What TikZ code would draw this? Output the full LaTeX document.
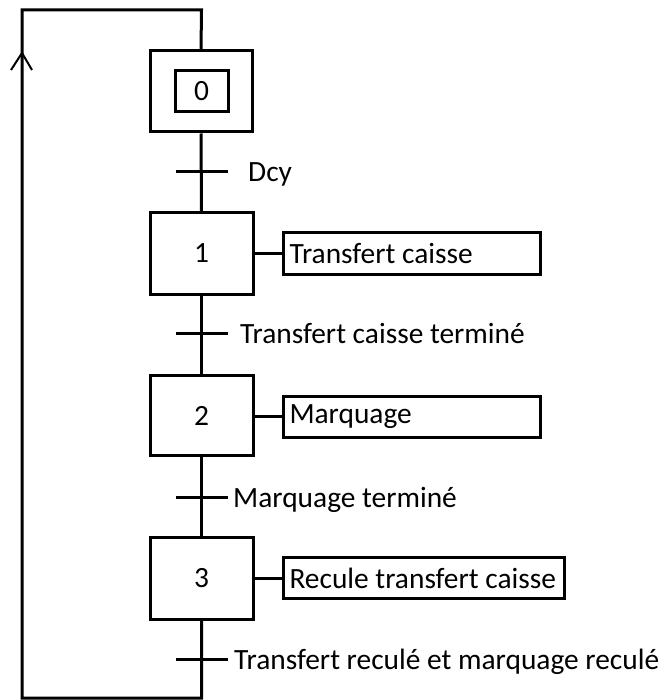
\documentclass[tikz,border=0pt]{standalone}
\usepackage{fontspec}
\setmainfont{Carlito}
\begin{document}
\begin{tikzpicture}[x=1pt,y=-1pt,
  every node/.style={font=\fontsize{29.4}{35}\selectfont},
  thick line/.style={line width=3pt},
  stepbox/.style={draw,line width=3pt,minimum width=103pt,minimum height=81pt,inner sep=0pt},
  initbox/.style={draw,line width=3pt,minimum width=53pt,minimum height=41pt,inner sep=0pt},
  actionbox/.style={draw,line width=3pt,anchor=west,minimum height=41pt,inner xsep=6pt,inner ysep=0pt},
  bar/.style={line width=3pt},
  cond/.style={anchor=base west,inner sep=0pt}]
\useasboundingbox (0,0) rectangle (666,700);

% steps
\node[stepbox,minimum width=102pt] (s0) at (201,91.5) {};
\node[initbox] (s0in) at (201.5,91.5) {0};
\node[stepbox] (s1) at (201.5,253.5) {1};
\node[stepbox,minimum height=80pt] (s2) at (201.5,415.5) {2};
\node[stepbox,minimum height=82pt] (s3) at (201.5,578) {3};

% actions
\node[actionbox] (a1) at (282,253.5) {\makebox[245pt][l]{Transfert caisse}};
\node[actionbox] (a2) at (282,416.5) {\makebox[245pt][l]{Marquage}};
\node[actionbox] (a3) at (282,578) {\makebox[269pt][l]{Recule transfert caisse}};
\draw[thick line] (s1.east) -- (a1.west);
\draw[thick line] (s2.east |- a2.west) -- (a2.west);
\draw[thick line] (s3.east) -- (a3.west);

% transition points on the main line
\coordinate (t0) at (201.5,172);
\coordinate (t1) at (201.5,333);
\coordinate (t2) at (201.5,497);
\coordinate (t3) at (201.5,659);

% main line
\draw[thick line] (s0.south) -- (s1.north);
\draw[thick line] (s1.south) -- (s2.north);
\draw[thick line] (s2.south) -- (s3.north);

% return loop
\coordinate (bR) at (201.5,698);
\coordinate (bL) at (22,698);
\coordinate (tL) at (22,10);
\coordinate (tR) at (201.5,10);
\draw[thick line,line join=miter] (s3.south) -- (bR) -- (bL) -- (tL) -- (tR) -- (s0.north);
\coordinate (tip) at (22,53);
\draw[line width=2pt] ([shift={(-11,17)}]tip) -- (tip) -- ([shift={(10,17)}]tip);

% transition bars
\foreach \t in {t0,t1,t2,t3}
  \draw[bar] ([xshift=-25.5pt]\t) -- ([xshift=26.5pt]\t);

% receptivities
\node[cond] (r0) at (248,181.5) {Dcy};
\node[cond] (r1) at (240,343) {Transfert caisse terminé};
\node[cond] (r2) at (233,507) {Marquage terminé};
\node[cond] (r3) at (234,669) {Transfert reculé et marquage reculé};
\end{tikzpicture}
\end{document}
